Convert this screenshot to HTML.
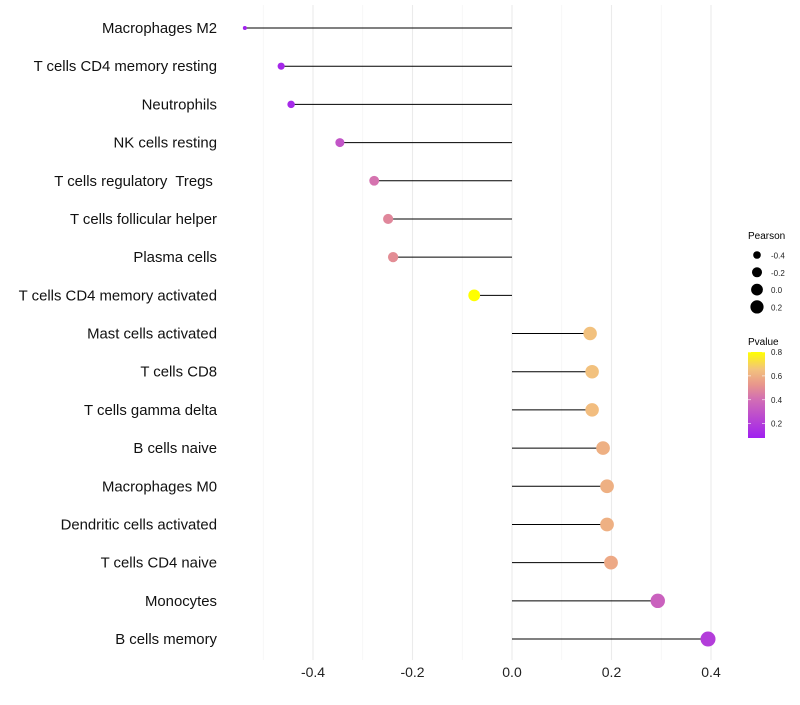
<!DOCTYPE html>
<html><head><meta charset="utf-8"><style>
body{margin:0;background:#fff;font-family:"Liberation Sans",sans-serif}
text{white-space:pre}
</style></head><body>
<svg id="chart" width="800" height="700" xmlns="http://www.w3.org/2000/svg"></svg>
<script>
const categories=["Macrophages M2","T cells CD4 memory resting","Neutrophils","NK cells resting","T cells regulatory  Tregs ","T cells follicular helper","Plasma cells","T cells CD4 memory activated","Mast cells activated","T cells CD8","T cells gamma delta","B cells naive","Macrophages M0","Dendritic cells activated","T cells CD4 naive","Monocytes","B cells memory"];
const pearson=[-0.537,-0.464,-0.444,-0.346,-0.277,-0.249,-0.239,-0.076,0.157,0.161,0.161,0.183,0.191,0.191,0.199,0.293,0.394];
const pvalues=[0.09,0.11,0.12,0.3,0.42,0.48,0.5,0.8,0.65,0.65,0.64,0.6,0.6,0.6,0.58,0.35,0.2];
const xTicks=[-0.4,-0.2,0.0,0.2,0.4];
const xMinor=[-0.5,-0.3,-0.1,0.1,0.3];
const sizeLegend=[-0.4,-0.2,0.0,0.2];
const colorLegend=[0.2,0.4,0.6,0.8];

const NS="http://www.w3.org/2000/svg";
const svg=document.getElementById('chart');
function el(t,a,p){const e=document.createElementNS(NS,t);for(const k in a)e.setAttribute(k,a[k]);(p||svg).appendChild(e);return e;}
const x=v=>512+v*497.5;
const y=i=>28+i*38.19;
const r=v=>2+5.5*Math.sqrt(Math.max(0,(v+0.537))/0.93);
const pMin=0.08,pMax=0.8;
const stops=[[0,[160,32,240]],[0.45,[210,110,180]],[0.62,[232,150,140]],[0.8,[243,195,125]],[1,[255,255,0]]];
function col(p){let t=(p-pMin)/(pMax-pMin);t=Math.max(0,Math.min(1,t));
 for(let i=1;i<stops.length;i++){if(t<=stops[i][0]){const a=stops[i-1],b=stops[i];const f=(t-a[0])/(b[0]-a[0]);
 const c=a[1].map((v,j)=>Math.round(v+(b[1][j]-v)*f));return `rgb(${c})`;}}return 'rgb(255,255,0)';}

xMinor.forEach(v=>{const g=el('line',{x1:x(v),x2:x(v),y1:5,y2:660,stroke:'#f2f2f2','stroke-width':0.6});
});
xTicks.forEach(v=>{const g=el('line',{x1:x(v),x2:x(v),y1:5,y2:660,stroke:'#ebebeb','stroke-width':1.1});

const t=el('text',{x:x(v),y:677,'text-anchor':'middle','font-size':14,fill:'#222'});t.textContent=v.toFixed(1);
});

categories.forEach((c,i)=>{
 const t=el('text',{x:217,y:y(i)+5,'text-anchor':'end','font-size':14.9,fill:'#111'});t.textContent=c;
 
 const l=el('line',{x1:x(0),x2:x(pearson[i]),y1:y(i),y2:y(i),stroke:'#000','stroke-width':1});
 
 const d=el('circle',{cx:x(pearson[i]),cy:y(i),r:r(pearson[i]),fill:col(pvalues[i])});
 
});

const lt=el('text',{x:748,y:239,'font-size':10,fill:'#000'});lt.textContent='Pearson';

sizeLegend.forEach((v,i)=>{const cy=255+i*17.3;
 const c=el('circle',{cx:757,cy:cy,r:r(v)-0.3,fill:'#000'});
 const t=el('text',{x:771,y:cy+3.5,'font-size':8,fill:'#222'});t.textContent=v.toFixed(1);
 });

const ct=el('text',{x:748,y:345,'font-size':10,fill:'#000'});ct.textContent='Pvalue';

const defs=el('defs',{});const gr=el('linearGradient',{id:'pg',x1:0,y1:1,x2:0,y2:0},defs);
stops.forEach(s=>el('stop',{offset:s[0],'stop-color':`rgb(${s[1]})`},gr));
const bar=el('rect',{x:748,y:352,width:17,height:86,fill:'url(#pg)'});

const py=p=>352+(pMax-p)/(pMax-pMin)*86;
colorLegend.forEach(v=>{const t=el('text',{x:771,y:py(v)+3,'font-size':8,fill:'#222'});t.textContent=v.toFixed(1);
 
 el('line',{x1:748,x2:751,y1:py(v),y2:py(v),stroke:'#fff','stroke-width':0.6});el('line',{x1:762,x2:765,y1:py(v),y2:py(v),stroke:'#fff','stroke-width':0.6});});
</script>
</body></html>
